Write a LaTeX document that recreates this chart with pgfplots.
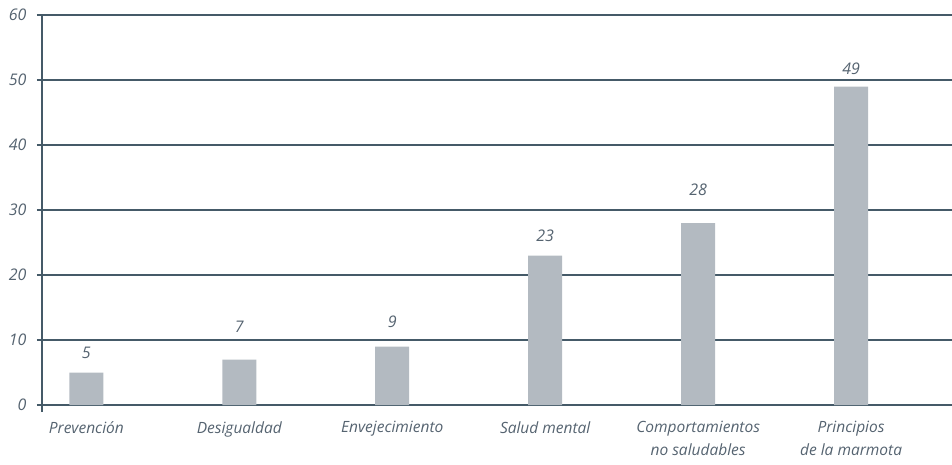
\documentclass[border=0pt]{standalone}
\usepackage{pgfplots}
\usepackage{pgfplotstable}
\pgfplotsset{compat=1.18}
\usepackage{fontspec}
\setmainfont{Open Sans}
\definecolor{gridc}{HTML}{455A68}
\definecolor{barc}{HTML}{B3BAC1}
\definecolor{txt}{HTML}{556370}
\pgfplotstableread{
x val ly
0 5  7.1
1 7  11.2
2 9  12.0
3 23 25.2
4 28 32.2
5 49 50.9
}\datatab
\begin{document}
\begin{tikzpicture}
\useasboundingbox (-42pt,-59pt) rectangle (910pt,405pt);
\begin{axis}[
  at={(0pt,0pt)}, anchor=south west,
  scale only axis, width=910pt, height=390pt,
  xmin=-0.29, xmax=5.66, ymin=0, ymax=60,
  axis x line*=bottom, axis y line*=left,
  x axis line style={draw=none},
  y axis line style={gridc, line width=2.7pt, shorten <=-7pt, -},
  ytick={0,10,...,60},
  ymajorgrids, grid style={gridc, line width=2.7pt},
  ytick style={gridc, line width=2.7pt},
  major tick length=5pt, tick align=outside,
  /pgf/number format/assume math mode=true,
  yticklabel style={font=\itshape\fontsize{16}{19}\selectfont, text=txt, xshift=-7pt},
  xtick={0,...,5}, xtick style={draw=none},
  xticklabels={Prevención, Desigualdad, Envejecimiento, Salud mental, {Comportamientos\\no saludables}, {Principios\\de la marmota}},
  xticklabel style={align=center, font=\itshape\fontsize{15.5}{23}\selectfont, text=txt, yshift=-8pt},
]
\addplot[ybar, bar width=34pt, fill=barc, draw=none] table[x=x, y=val] {\datatab};
\addplot[only marks, mark=none, nodes near coords, point meta=explicit symbolic,
  every node near coord/.style={anchor=base, inner sep=0pt, font=\itshape\fontsize{16}{19}\selectfont, text=txt}]
  table[x=x, y=ly, meta=val] {\datatab};
\end{axis}
\end{tikzpicture}
\end{document}
